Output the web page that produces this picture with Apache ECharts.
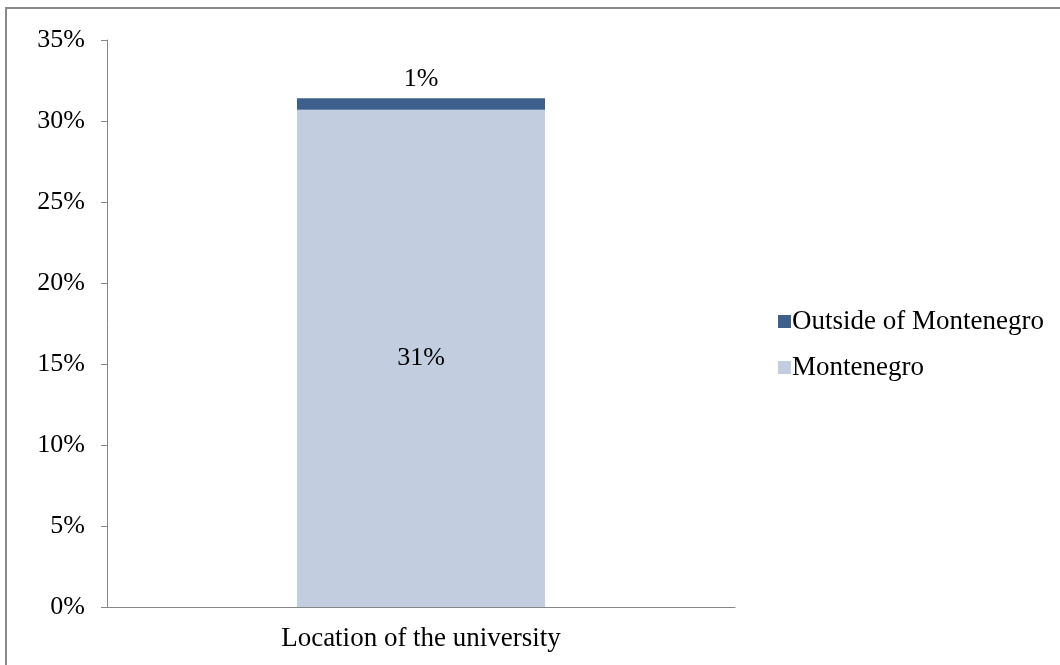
<!DOCTYPE html>
<html>
<head>
<meta charset="utf-8">
<script src="https://cdn.jsdelivr.net/npm/echarts@6/dist/echarts.min.js"></script>
<style>
  html, body { margin: 0; padding: 0; background: #fff; }
  #chart { width: 1060px; height: 665px; }
</style>
</head>
<body>
<div id="chart"></div>
<script>
// categories and values
const categories = ['Location of the university'];
const montenegro = [30.7];
const outside = [0.7];
const yTicks = [0, 5, 10, 15, 20, 25, 30, 35];

const font = 'Liberation Serif';
const chart = echarts.init(document.getElementById('chart'));

const pct = (p) => Math.round(p.value) + '%';

chart.setOption({
  animation: false,
  textStyle: { fontFamily: font },
  grid: { left: 107, right: 325, top: 40, bottom: 58 },
  legend: {
    orient: 'vertical',
    left: 773,
    top: 303,
    itemWidth: 13,
    itemHeight: 13,
    itemGap: 19,
    icon: 'rect',
    data: ['Outside of Montenegro', 'Montenegro'],
    textStyle: { fontFamily: font, fontSize: 27, lineHeight: 27, color: '#000', padding: [0, 0, 0, -4] }
  },
  graphic: [{
    type: 'rect',
    shape: { x: 6, y: 8, width: 1200, height: 800 },
    style: { fill: 'none', stroke: '#8a8a8a', lineWidth: 2 },
    silent: true
  }],
  xAxis: {
    type: 'category',
    data: categories,
    axisLine: { lineStyle: { color: '#868686' } },
    axisTick: { length: 8, lineStyle: { color: '#868686' } },
    axisLabel: { color: '#000', fontFamily: font, fontSize: 27, margin: 18 }
  },
  yAxis: {
    type: 'value',
    min: yTicks[0],
    max: yTicks[yTicks.length - 1],
    interval: 5,
    splitLine: { show: false },
    axisLine: { show: true, lineStyle: { color: '#868686' } },
    axisTick: { show: true, length: 6, lineStyle: { color: '#868686' } },
    axisLabel: { color: '#000', fontFamily: font, fontSize: 26, margin: 22, formatter: '{value}%' }
  },
  series: [
    {
      name: 'Montenegro',
      type: 'bar',
      stack: 'loc',
      data: montenegro,
      barWidth: '39.5%',
      itemStyle: { color: '#C2CDE0' },
      label: { show: true, position: 'inside', color: '#000', fontFamily: font, fontSize: 26, formatter: pct }
    },
    {
      name: 'Outside of Montenegro',
      type: 'bar',
      stack: 'loc',
      data: outside,
      itemStyle: { color: '#3C5F8C' },
      label: { show: true, position: 'top', distance: 6, color: '#000', fontFamily: font, fontSize: 26, formatter: pct }
    }
  ]
});
</script>
</body>
</html>
